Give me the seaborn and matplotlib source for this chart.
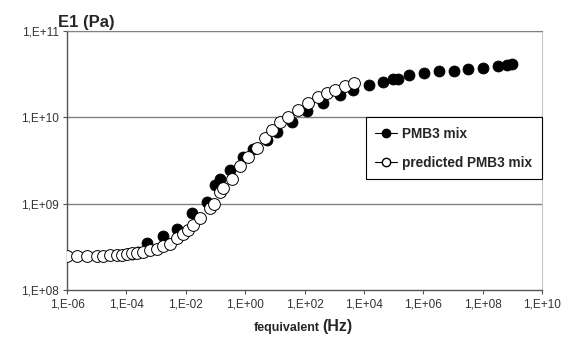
import numpy as np
import pandas as pd
import matplotlib
matplotlib.use("Agg")
import matplotlib.pyplot as plt
from matplotlib.lines import Line2D
from matplotlib.ticker import FuncFormatter, FixedLocator, NullLocator
import seaborn as sns

# measured PMB3 mix
freq_meas = [1.5e-4, 2.5e-4, 4.8e-4, 1.7e-3, 4.9e-3, 1.6e-2, 5.1e-2, 9.5e-2, 0.145, 0.32,
             0.87, 1.9, 5.4, 11.5, 37, 117, 430, 1550, 4400, 1.5e4,
             4.5e4, 9.8e4, 1.45e5, 3.3e5, 1.07e6, 3.4e6, 1.07e7, 3.3e7, 1.0e8, 3.4e8,
             6.5e8, 9.5e8]
e1_meas = [2.6e8, 2.75e8, 3.5e8, 4.2e8, 5.1e8, 7.8e8, 1.05e9, 1.65e9, 1.95e9, 2.45e9,
           3.45e9, 4.35e9, 5.5e9, 6.8e9, 8.9e9, 1.17e10, 1.45e10, 1.82e10, 2.1e10, 2.4e10,
           2.6e10, 2.75e10, 2.8e10, 3.1e10, 3.3e10, 3.4e10, 3.45e10, 3.6e10, 3.7e10, 3.9e10,
           4.0e10, 4.1e10]

# predicted PMB3 mix
freq_pred = [1.0e-6, 2.2e-6, 4.7e-6, 1.0e-5, 1.66e-5, 2.8e-5, 4.7e-5, 6.9e-5, 1.02e-4, 1.5e-4,
             2.2e-4, 3.7e-4, 6.3e-4, 1.05e-3, 1.74e-3, 2.95e-3, 4.9e-3, 8.3e-3, 1.23e-2, 1.78e-2,
             3.0e-2, 6.6e-2, 8.9e-2, 0.141, 0.18, 0.355, 0.68, 1.29, 2.45, 4.7,
             7.8, 14.8, 28, 62, 135, 290, 560, 1070, 2300, 4700]
e1_pred = [2.45e8, 2.45e8, 2.45e8, 2.45e8, 2.45e8, 2.55e8, 2.55e8, 2.57e8, 2.58e8, 2.7e8,
           2.7e8, 2.75e8, 2.9e8, 3.0e8, 3.25e8, 3.45e8, 4.0e8, 4.5e8, 5.0e8, 5.6e8,
           6.9e8, 8.9e8, 1.0e9, 1.38e9, 1.5e9, 1.95e9, 2.7e9, 3.45e9, 4.45e9, 5.75e9,
           7.1e9, 8.9e9, 1.02e10, 1.23e10, 1.48e10, 1.7e10, 1.9e10, 2.1e10, 2.3e10, 2.5e10]

x_ticks = [1e-6, 1e-4, 1e-2, 1e0, 1e2, 1e4, 1e6, 1e8, 1e10]
y_ticks = [1e8, 1e9, 1e10, 1e11]

sns.set_style("white")
plt.rcParams['font.family'] = ['Liberation Sans', 'DejaVu Sans']

meas = pd.DataFrame({"f": freq_meas, "E1": e1_meas})
pred = pd.DataFrame({"f": freq_pred, "E1": e1_pred})

fig = plt.figure(figsize=(5.65, 3.4), dpi=100)
ax = fig.add_axes([67 / 565, 1 - 290 / 340, 475 / 565, 259 / 340])
ax.set_xscale("log")
ax.set_yscale("log")

grid_c = "#808080"
for yv in y_ticks[1:]:
    ax.axhline(yv, color=grid_c, lw=1.0, zorder=0)

sns.scatterplot(data=meas, x="f", y="E1", ax=ax, s=62, color="black",
                edgecolor="black", linewidth=0.6, zorder=3, legend=False)
sns.scatterplot(data=pred, x="f", y="E1", ax=ax, s=72, color="white",
                edgecolor="black", linewidth=0.7, zorder=4, legend=False)

ax.set_xlim(1e-6, 1e10)
ax.set_ylim(1e8, 1e11)
ax.xaxis.set_major_locator(FixedLocator(x_ticks))
ax.yaxis.set_major_locator(FixedLocator(y_ticks))
ax.xaxis.set_minor_locator(NullLocator())
ax.yaxis.set_minor_locator(NullLocator())
fmt = FuncFormatter(lambda v, p: "1,E{:+03d}".format(int(round(np.log10(v)))))
ax.xaxis.set_major_formatter(fmt)
ax.yaxis.set_major_formatter(fmt)
ax.tick_params(axis="both", which="major", direction="out", length=3, width=0.8,
               color="#555555", labelsize=8.5, labelcolor="#333333", pad=3,
               bottom=True, left=True)
ax.set_xlabel("")
ax.set_ylabel("")

for side in ["left", "bottom"]:
    ax.spines[side].set_color("#555555")
    ax.spines[side].set_linewidth(1.0)
ax.spines["top"].set_color(grid_c)
ax.spines["right"].set_color("#c8c8c8")

fig.text(58 / 565, 1 - 22 / 340, "E1 (Pa)", fontsize=12, fontweight="bold",
         ha="left", va="center")
fig.text(320 / 565, 1 - 331 / 340, "fequivalent", fontsize=9, fontweight="bold",
         ha="right", va="baseline")
fig.text(322 / 565, 1 - 331 / 340, "(Hz)", fontsize=11.5, fontweight="bold",
         ha="left", va="baseline")

handles = [
    Line2D([0], [0], color="black", lw=0.8, marker="o", markersize=6,
           markerfacecolor="black", markeredgecolor="black"),
    Line2D([0], [0], color="black", lw=0.8, marker="o", markersize=6,
           markerfacecolor="white", markeredgecolor="black"),
]
leg = ax.legend(handles, ["PMB3 mix", "predicted PMB3 mix"], loc="upper right",
                bbox_to_anchor=(1.0, (290 - 117.3) / 259), borderaxespad=0,
                frameon=True, fancybox=False, edgecolor="black", framealpha=1,
                prop={"weight": "bold", "size": 9.8}, handlelength=1.6,
                handletextpad=0.4, labelspacing=1.1, borderpad=0.7)
leg.get_frame().set_linewidth(0.8)

fig.savefig("out.png", dpi=100, facecolor="white")
